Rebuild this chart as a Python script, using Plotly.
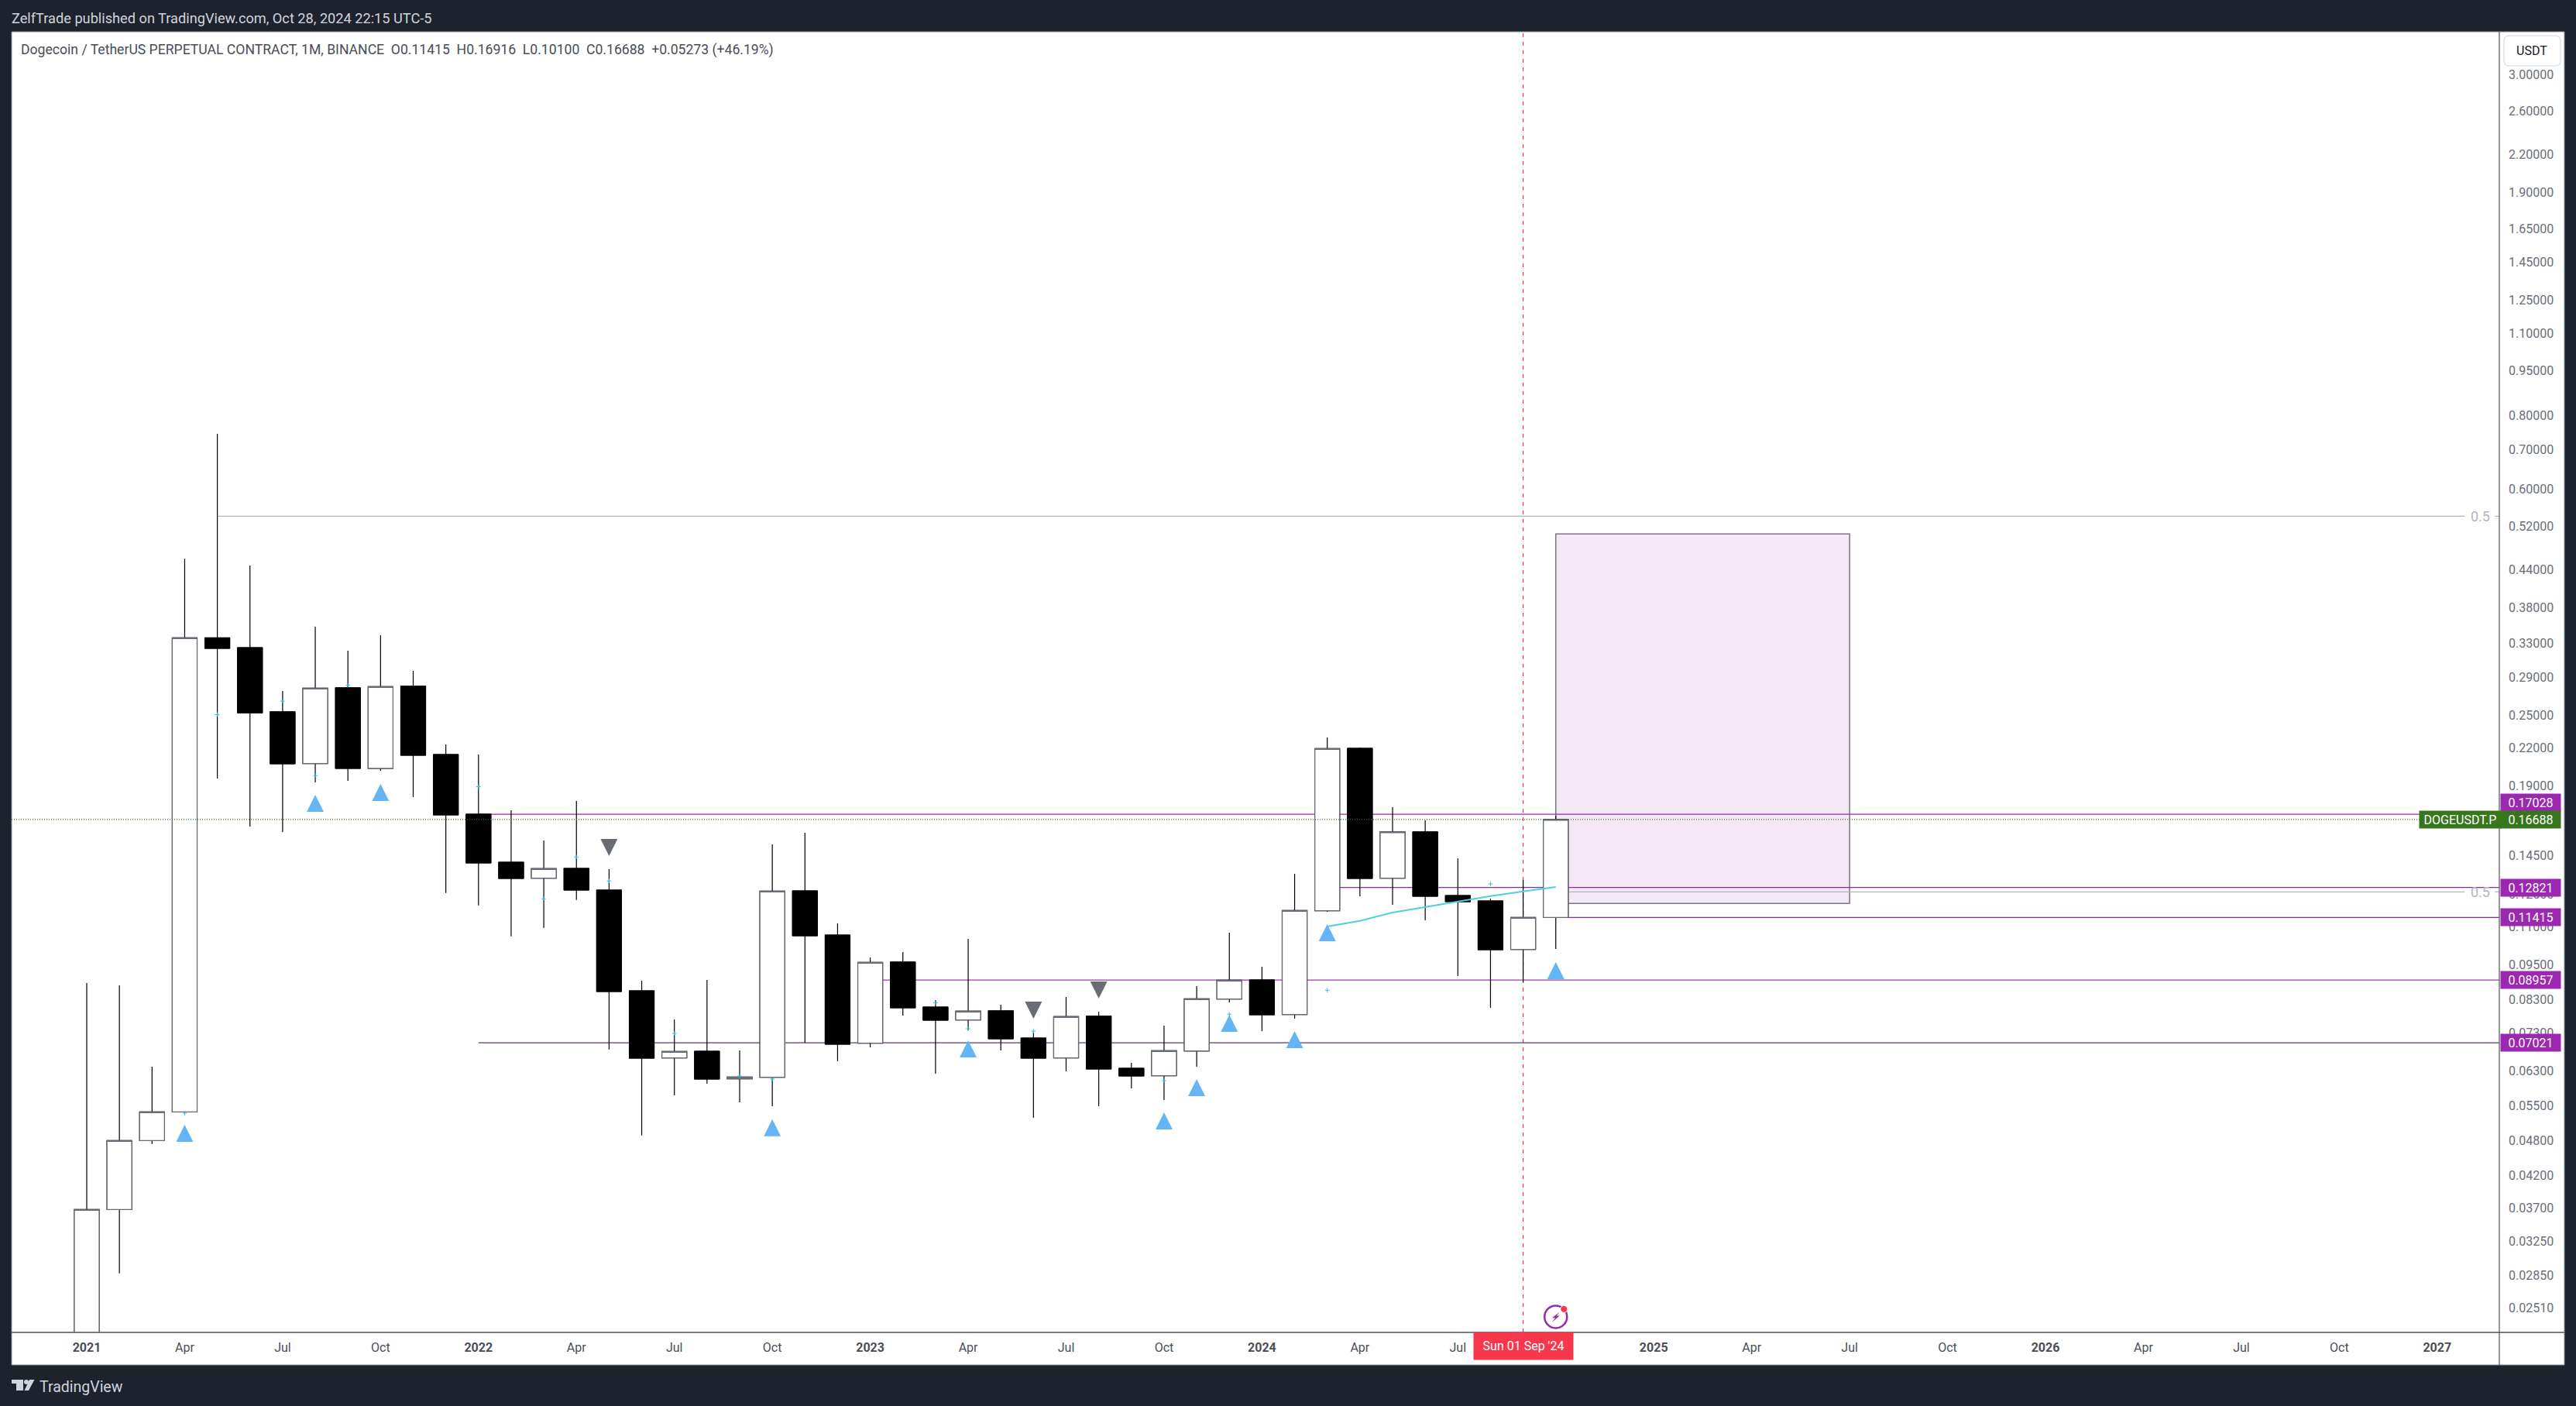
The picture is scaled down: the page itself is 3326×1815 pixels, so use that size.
import math
import plotly.graph_objects as go

NB = "\u00a0"
# ---------- data ----------
month_index = list(range(46))  # 0 = Jan 2021, bar spacing is one per month
open_ = [0.0047,0.03679,0.04806,0.05371,0.3375,0.32498,0.25332,0.2073,0.27805,0.2034,0.27972,0.21471,
         0.17038,0.14143,0.1329,0.13807,0.12693,0.0859,0.0662,0.06795,0.06105,0.06141,0.12655,0.10662,
         0.0701,0.096,0.08065,0.0767,0.07945,0.07152,0.0662,0.07784,0.06361,0.06178,0.06801,0.08318,
         0.08959,0.07833,0.11714,0.21993,0.1329,0.15901,0.12429,0.1217,0.10081,0.11415]
high = [0.08852,0.08773,0.06399,0.45883,0.7446,0.44685,0.27472,0.35244,0.3211,0.34099,0.29698,0.22326,
        0.2147,0.17296,0.15384,0.1793,0.13766,0.08932,0.07687,0.08959,0.06816,0.15154,0.15853,0.11155,
        0.09775,0.09982,0.08286,0.10505,0.08138,0.07325,0.08386,0.07921,0.06496,0.07504,0.08746,0.1076,
        0.0943,0.13519,0.22938,0.22059,0.17505,0.16633,0.14357,0.12279,0.13199,0.16916]
low = [0.0046,0.02872,0.04744,0.05344,0.19562,0.16238,0.15901,0.19271,0.19386,0.20159,0.18202,0.12553,
       0.11964,0.10609,0.10965,0.12218,0.06843,0.04902,0.05726,0.0599,0.05573,0.0549,0.07024,0.06535,
       0.06898,0.07803,0.06228,0.0737,0.06816,0.05248,0.06285,0.0549,0.05883,0.05624,0.06399,0.08211,
       0.07347,0.07709,0.11669,0.12392,0.11989,0.1129,0.09095,0.08041,0.08879,0.101]
close = [0.03679,0.04806,0.05371,0.3375,0.32401,0.25241,0.20711,0.27771,0.20341,0.2793,0.21407,0.16987,
         0.141,0.13278,0.13795,0.12693,0.08564,0.06614,0.06789,0.06099,0.06149,0.12644,0.10631,0.06982,
         0.09591,0.08041,0.07664,0.07938,0.0713,0.06614,0.07773,0.06342,0.06173,0.0681,0.08328,0.08951,
         0.07826,0.11728,0.21973,0.13278,0.15901,0.12392,0.12134,0.10072,0.11415,0.16688]

signal_up_x = [3,7,9,21,27,33,34,35,37,38,45]
signal_up_price = [0.04782,0.17192,0.1793,0.04888,0.06634,0.05017,0.05709,0.07325,0.06878,0.1041,0.08986]
signal_down_x = [16,29,31]
signal_down_price = [0.15476,0.08236,0.08906]

trend_x = [38,39,40,41,42,43,44,45]
trend_price = [0.11022,0.11266,0.11634,0.11892,0.12159,0.12403,0.12628,0.12846]

speck_x = [3,4,6,7,8,12,14,15,16,18,20,21,26,27,29,33,35,38,43]
speck_price = [0.05344,0.25067,0.26396,0.1978,0.28089,0.18955,0.1227,0.14431,0.13147,0.07282,0.06173,
               0.06099,0.08204,0.07414,0.07347,0.06062,0.07844,0.08608,0.13]

level_prices = [0.17028,0.12821,0.11415,0.08957,0.07021]
level_starts = [12,38,45,24,12]
level_colors = ["#9c27b0","#8e2aa0","#8e2aa0","#9c3aac","#5e3a6c"]
last_price = 0.16688
fib_price = [0.5408,0.12606]
fib_starts = [4,45]
zone_x = [45,54]
zone_price = [0.12052,0.505]
cursor_x = 44

ytick_vals = [3.0,2.6,2.2,1.9,1.65,1.45,1.25,1.1,0.95,0.8,0.7,0.6,0.52,0.44,0.38,0.33,0.29,0.25,0.22,0.19,
              0.145,0.125,0.11,0.095,0.083,0.073,0.063,0.055,0.048,0.042,0.037,0.0325,0.0285,0.0251]
xtick_vals = [0,3,6,9,12,15,18,21,24,27,30,33,36,39,42,48,51,54,57,60,63,66,69,72]
xtick_text = ["<b>2021</b>","Apr","Jul","Oct","<b>2022</b>","Apr","Jul","Oct","<b>2023</b>","Apr","Jul","Oct",
              "<b>2024</b>","Apr","Jul","<b>2025</b>","Apr","Jul","Oct","<b>2026</b>","Apr","Jul","Oct","<b>2027</b>"]

title_text = ("Dogecoin / TetherUS PERPETUAL CONTRACT, 1M, BINANCE" + NB*2 + "O0.11415" + NB*2 + "H0.16916" + NB*2 +
              "L0.10100" + NB*2 + "C0.16688" + NB*2 + "+0.05273 (+46.19%)")
header_text = "ZelfTrade published on TradingView.com, Oct 28, 2024 22:15 UTC-5"

# ---------- frame ----------
W, H = 3326, 1815
L, R, T, B = 15, 3227, 41, 1720
XMAX = (R - 112) / 42.15
XMIN = (L - 112) / 42.15
def xp(px): return (px - L) / (R - L)
def yp(py): return (B - py) / (B - T)

DARK = "#1e222d"
PURPLE = "#9c27b0"
GREEN = "#38761d"
RED = "#f7374c"
FONT = "Roboto"

fig = go.Figure()
fig.add_trace(go.Candlestick(x=month_index, open=open_, high=high, low=low, close=close,
    increasing=dict(line=dict(color="#000000", width=1.2), fillcolor="#000000"),
    decreasing=dict(line=dict(color="#000000", width=1.2), fillcolor="#000000"),
    whiskerwidth=0, hoverinfo="skip", showlegend=False))

dn = [i for i in month_index if close[i] < open_[i]]
up = [i for i in month_index if close[i] >= open_[i]]
fig.add_trace(go.Candlestick(x=dn, open=[open_[i] for i in dn], high=[open_[i] for i in dn],
    low=[close[i] for i in dn], close=[close[i] for i in dn],
    decreasing=dict(line=dict(color="#000000", width=1), fillcolor="#000000"),
    increasing=dict(line=dict(color="#000000", width=1), fillcolor="#000000"),
    whiskerwidth=0, hoverinfo="skip", showlegend=False))
fig.add_trace(go.Scatter(x=trend_x, y=trend_price, mode="lines", line=dict(color="#4dd0e1", width=2),
                         hoverinfo="skip", showlegend=False))
fig.add_trace(go.Candlestick(x=up, open=[open_[i] for i in up], high=[close[i] for i in up],
    low=[open_[i] for i in up], close=[close[i] for i in up],
    increasing=dict(line=dict(color="#6a6d78", width=1.3), fillcolor="#ffffff"),
    decreasing=dict(line=dict(color="#6a6d78", width=1.3), fillcolor="#ffffff"),
    whiskerwidth=0, hoverinfo="skip", showlegend=False))
fig.add_trace(go.Scatter(x=speck_x, y=speck_price, mode="markers",
    marker=dict(symbol="cross-thin", size=4, line=dict(color="#26c6da", width=1), color="#26c6da"),
    hoverinfo="skip", showlegend=False))
# alert icon
fig.add_trace(go.Scatter(x=[45], y=[0.02426], mode="markers",
    marker=dict(symbol="circle", size=29, color="rgba(0,0,0,0)", line=dict(color=PURPLE, width=2.5)),
    hoverinfo="skip", showlegend=False))
fig.add_trace(go.Scatter(x=[45.25], y=[0.025], mode="markers",
    marker=dict(symbol="circle", size=9, color=RED, line=dict(color="#ffffff", width=1)),
    hoverinfo="skip", showlegend=False))

shapes = []
# page panels
shapes.append(dict(type="rect", xref="paper", yref="paper", x0=xp(L), x1=xp(3311), y0=yp(1762), y1=yp(T),
                   fillcolor="#ffffff", line=dict(color="#8a8d96", width=1), layer="below"))
shapes.append(dict(type="line", xref="paper", yref="paper", x0=xp(R), x1=xp(R), y0=yp(1762), y1=yp(T),
                   line=dict(color="#50535e", width=1.2), layer="above"))
shapes.append(dict(type="line", xref="paper", yref="paper", x0=xp(L), x1=xp(3311), y0=yp(B), y1=yp(B),
                   line=dict(color="#50535e", width=1.5), layer="above"))
# USDT button
bx0, bx1, by0, by1, rr = 3233, 3306, 46, 85, 7
btn = (f"M{xp(bx0+rr)},{yp(by0)} L{xp(bx1-rr)},{yp(by0)} Q{xp(bx1)},{yp(by0)} {xp(bx1)},{yp(by0+rr)} "
       f"L{xp(bx1)},{yp(by1-rr)} Q{xp(bx1)},{yp(by1)} {xp(bx1-rr)},{yp(by1)} L{xp(bx0+rr)},{yp(by1)} "
       f"Q{xp(bx0)},{yp(by1)} {xp(bx0)},{yp(by1-rr)} L{xp(bx0)},{yp(by0+rr)} Q{xp(bx0)},{yp(by0)} {xp(bx0+rr)},{yp(by0)} Z")
shapes.append(dict(type="path", xref="paper", yref="paper", path=btn, fillcolor="#ffffff",
                   line=dict(color="#e0e3eb", width=1.5), layer="above"))
# cursor + zone + levels
shapes.append(dict(type="rect", x0=zone_x[0], x1=zone_x[1], y0=zone_price[0], y1=zone_price[1], xref="x", yref="y",
                   fillcolor="#f4e8f7", line=dict(color="#787682", width=1.5), layer="below"))
shapes.append(dict(type="line", x0=cursor_x, x1=cursor_x, y0=0, y1=1, xref="x", yref="paper",
                   line=dict(color=RED, width=1.2, dash="5px,6px"), layer="below"))
for p, s, c in zip(level_prices, level_starts, level_colors):
    shapes.append(dict(type="line", x0=s, x1=XMAX, y0=p, y1=p, xref="x", yref="y",
                       line=dict(color=c, width=1.3), layer="below"))
for p, s in zip(fib_price, fib_starts):
    shapes.append(dict(type="line", x0=s, x1=72.84, y0=p, y1=p, xref="x", yref="y",
                       line=dict(color="#b2b5be", width=1.2), layer="below"))
    shapes.append(dict(type="line", x0=73.76, x1=XMAX, y0=p, y1=p, xref="x", yref="y",
                       line=dict(color="#b2b5be", width=1.2), layer="below"))
shapes.append(dict(type="line", x0=XMIN, x1=XMAX, y0=last_price, y1=last_price, xref="x", yref="y",
                   line=dict(color=GREEN, width=1.2, dash="1px,2px"), layer="above"))
# signal triangles
for x, p in zip(signal_up_x, signal_up_price):
    shapes.append(dict(type="path", xref="x", yref="y", xsizemode="pixel", ysizemode="pixel", xanchor=x, yanchor=p,
                       path="M-11,0 L11,0 L0,22 Z", fillcolor="#64b5f6", line=dict(width=0), layer="above"))
for x, p in zip(signal_down_x, signal_down_price):
    shapes.append(dict(type="path", xref="x", yref="y", xsizemode="pixel", ysizemode="pixel", xanchor=x, yanchor=p,
                       path="M-11,0 L11,0 L0,-22 Z", fillcolor="#696c75", line=dict(width=0), layer="above"))
# lightning in alert icon
shapes.append(dict(type="path", xref="x", yref="y", xsizemode="pixel", ysizemode="pixel", xanchor=45, yanchor=0.02426,
                   path="M5,6.3 L-4.7,-1.3 L-0.7,-1.3 L-5,-7 L5,1.3 L1,1.3 Z", fillcolor=PURPLE, line=dict(width=0), layer="above"))
# TradingView logo
def poly(pts):
    return "M" + " L".join(f"{xp(a)},{yp(b)}" for a, b in pts) + " Z"
shapes.append(dict(type="path", xref="paper", yref="paper", fillcolor="#d1d4dc", line=dict(width=0), layer="above",
                   path=poly([(15,1781),(30,1781),(30,1795),(21,1795),(21,1786),(15,1786)])))
shapes.append(dict(type="path", xref="paper", yref="paper", fillcolor="#d1d4dc", line=dict(width=0), layer="above",
                   path=poly([(37,1795),(31.5,1795),(38,1781),(44.5,1781)])))
shapes.append(dict(type="circle", xref="paper", yref="paper", x0=xp(31), x1=xp(37), y0=yp(1787), y1=yp(1781),
                   fillcolor="#d1d4dc", line=dict(width=0), layer="above"))

def tag(text, price, color, x0=3228, width=77, yshift=0):
    return dict(xref="paper", yref="y", x=xp(x0), y=math.log10(price), xanchor="left", yanchor="middle",
                text=text, showarrow=False, bgcolor=color, width=width, height=22, borderpad=0, yshift=yshift, align="center",
                font=dict(family=FONT, size=16, color="#ffffff"))
annotations = [
    dict(xref="paper", yref="paper", x=xp(13), y=yp(23), xanchor="left", yanchor="middle", showarrow=False,
         text=header_text, font=dict(family=FONT, size=18.2, color="#d1d4dc")),
    dict(xref="paper", yref="paper", x=xp(25), y=yp(64), xanchor="left", yanchor="middle", showarrow=False,
         text=title_text, font=dict(family=FONT, size=17.6, color="#4a4d58")),
    dict(xref="paper", yref="paper", x=xp(49), y=yp(1790), xanchor="left", yanchor="middle", showarrow=False,
         text="TradingView", font=dict(family=FONT, size=19.5, color="#d1d4dc")),
    dict(xref="paper", yref="paper", x=xp(3269), y=yp(66), xanchor="center", yanchor="middle", showarrow=False,
         text="USDT", font=dict(family=FONT, size=16, color="#131722")),
    dict(xref="paper", yref="paper", x=xp(1966.5), y=yp(1737), xanchor="center", yanchor="middle", showarrow=False,
         text="Sun 01 Sep '24", bgcolor=RED, width=128, height=35, borderpad=0,
         font=dict(family=FONT, size=16, color="#ffffff")),
]
for p in fib_price:
    annotations.append(dict(xref="paper", yref="y", x=xp(3202), y=math.log10(p), xanchor="center", yanchor="middle",
                            showarrow=False, text="0.5", font=dict(family=FONT, size=18, color="#b2b5be")))
annotations.append(tag("0.17028", 0.17028, PURPLE, yshift=15.5))
for p in level_prices[1:]:
    annotations.append(tag(f"{p:.5f}", p, PURPLE))
annotations.append(tag(f"{last_price:.5f}", last_price, GREEN))
annotations.append(tag("DOGEUSDT.P", last_price, GREEN, x0=3123, width=105))

fig.update_layout(
    width=W, height=H, autosize=False,
    margin=dict(l=L, r=W - R, t=T, b=H - B, pad=0),
    paper_bgcolor=DARK, plot_bgcolor="#ffffff",
    boxgap=0.24, boxgroupgap=0, hovermode=False, showlegend=False,
    shapes=shapes, annotations=annotations,
    font=dict(family=FONT),
    xaxis=dict(range=[XMIN, XMAX], type="linear", tickmode="array", tickvals=xtick_vals, ticktext=xtick_text,
               showgrid=False, zeroline=False, showline=False, ticks="", rangeslider=dict(visible=False),
               ticklabelstandoff=8, tickfont=dict(family=FONT, size=16, color="#4a4d58"), fixedrange=True),
    yaxis=dict(type="log", range=[-1.6413, 0.5489], side="right", tickmode="array", tickvals=ytick_vals,
               ticktext=[f"{v:.5f}" for v in ytick_vals], showgrid=False, zeroline=False, showline=False, ticks="",
               ticklabelstandoff=11, tickfont=dict(family=FONT, size=16, color="#6a6d78"), fixedrange=True),
)
fig.write_html("out.html", config=dict(displayModeBar=False),
               post_script="document.body.style.margin='0';document.body.style.background='#1e222d';")
